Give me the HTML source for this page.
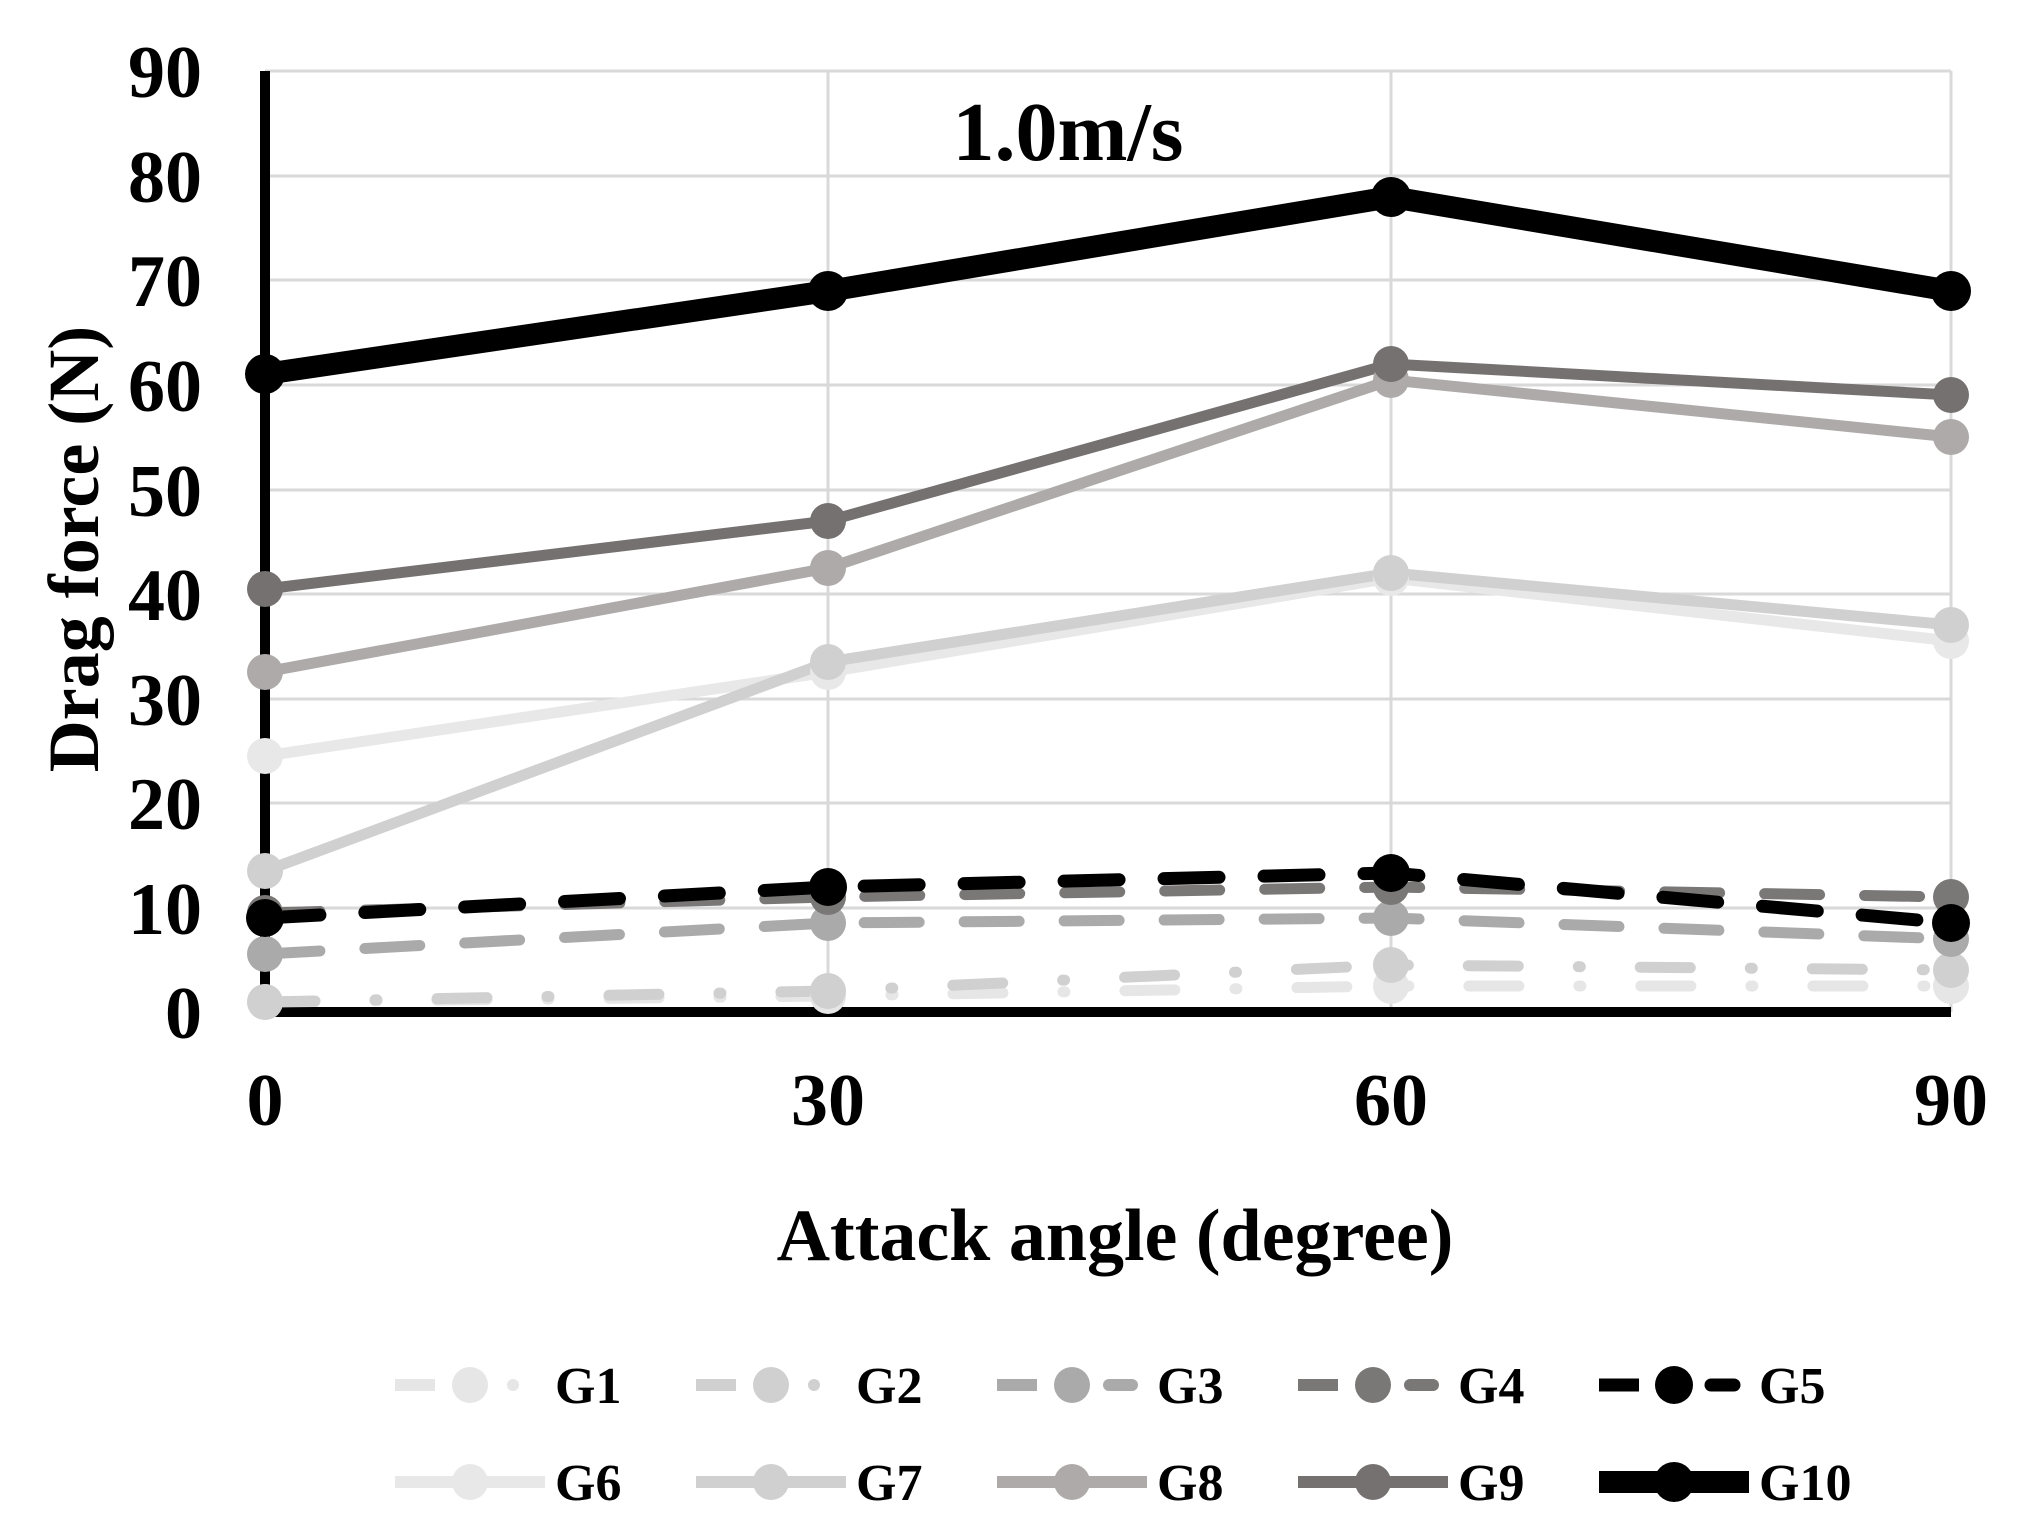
<!DOCTYPE html>
<html><head><meta charset="utf-8"><style>html,body{margin:0;padding:0;background:#fff}svg{display:block}</style></head><body>
<svg width="2019" height="1533" viewBox="0 0 2019 1533" xmlns="http://www.w3.org/2000/svg" font-family="Liberation Serif, serif" font-weight="bold">
<g stroke="#d9d9d9" stroke-width="3">
<line x1="265" y1="71" x2="1951" y2="71"/><line x1="265" y1="176" x2="1951" y2="176"/><line x1="265" y1="280" x2="1951" y2="280"/><line x1="265" y1="385" x2="1951" y2="385"/><line x1="265" y1="490" x2="1951" y2="490"/><line x1="265" y1="594" x2="1951" y2="594"/><line x1="265" y1="699" x2="1951" y2="699"/><line x1="265" y1="803" x2="1951" y2="803"/><line x1="265" y1="908" x2="1951" y2="908"/>
<line x1="828" y1="71" x2="828" y2="1012"/><line x1="1391" y1="71" x2="1391" y2="1012"/><line x1="1951" y1="71" x2="1951" y2="1012"/>
</g>
<line x1="265" y1="1012" x2="1951" y2="1012" stroke="#000" stroke-width="10"/>
<line x1="265" y1="71" x2="265" y2="1016" stroke="#000" stroke-width="10"/>
<g font-size="74" text-anchor="end">
<text x="202" y="97">90</text><text x="202" y="202">80</text><text x="202" y="306">70</text><text x="202" y="411">60</text><text x="202" y="516">50</text><text x="202" y="620">40</text><text x="202" y="725">30</text><text x="202" y="829">20</text><text x="202" y="934">10</text><text x="202" y="1038">0</text>
</g>
<g font-size="74" text-anchor="middle">
<text x="265" y="1125">0</text><text x="828" y="1125">30</text><text x="1391" y="1125">60</text><text x="1951" y="1125">90</text>
</g>
<text x="1068" y="160" font-size="84" text-anchor="middle">1.0m/s</text>
<text x="1115" y="1260" font-size="74" text-anchor="middle">Attack angle (degree)</text>
<text transform="translate(98,549) rotate(-90)" font-size="72" text-anchor="middle">Drag force (N)</text>
<g fill="none" stroke-linejoin="round" stroke-linecap="round">
<polyline points="265,1002 828,996 1391,986 1951,986" stroke="#e6e6e6" stroke-width="11" stroke-dasharray="50,60,2,60"/>
<polyline points="265,1002 828,991 1391,965 1951,970" stroke="#d0d0d0" stroke-width="11" stroke-dasharray="50,60,2,60"/>
<polyline points="265,954 828,923 1391,918 1951,939" stroke="#aaaaaa" stroke-width="11" stroke-dasharray="55,45"/>
<polyline points="265,913 828,897 1391,887 1951,897" stroke="#7a7777" stroke-width="11" stroke-dasharray="55,45"/>
<polyline points="265,918 828,887 1391,873 1951,923" stroke="#000" stroke-width="13" stroke-dasharray="55,45"/>
<polyline points="265,756 828,672 1391,578 1951,641" stroke="#e8e8e8" stroke-width="11"/>
<polyline points="265,871 828,662 1391,573 1951,625" stroke="#d0d0d0" stroke-width="11"/>
<polyline points="265,672 828,568 1391,380 1951,437" stroke="#aeaaaa" stroke-width="11"/>
<polyline points="265,589 828,521 1391,364 1951,395" stroke="#767171" stroke-width="11"/>
<polyline points="265,374 828,291 1391,197 1951,291" stroke="#000" stroke-width="22"/>
</g>
<g fill="#e6e6e6"><circle cx="265" cy="1002" r="18"/><circle cx="828" cy="996" r="18"/><circle cx="1391" cy="986" r="18"/><circle cx="1951" cy="986" r="18"/></g>
<g fill="#d0d0d0"><circle cx="265" cy="1002" r="18"/><circle cx="828" cy="991" r="18"/><circle cx="1391" cy="965" r="18"/><circle cx="1951" cy="970" r="18"/></g>
<g fill="#aaaaaa"><circle cx="265" cy="954" r="18"/><circle cx="828" cy="923" r="18"/><circle cx="1391" cy="918" r="18"/><circle cx="1951" cy="939" r="18"/></g>
<g fill="#7a7777"><circle cx="265" cy="913" r="18"/><circle cx="828" cy="897" r="18"/><circle cx="1391" cy="887" r="18"/><circle cx="1951" cy="897" r="18"/></g>
<g fill="#000"><circle cx="265" cy="918" r="19"/><circle cx="828" cy="887" r="19"/><circle cx="1391" cy="873" r="19"/><circle cx="1951" cy="923" r="19"/></g>
<g fill="#e8e8e8"><circle cx="265" cy="756" r="18"/><circle cx="828" cy="672" r="18"/><circle cx="1391" cy="578" r="18"/><circle cx="1951" cy="641" r="18"/></g>
<g fill="#d0d0d0"><circle cx="265" cy="871" r="18"/><circle cx="828" cy="662" r="18"/><circle cx="1391" cy="573" r="18"/><circle cx="1951" cy="625" r="18"/></g>
<g fill="#aeaaaa"><circle cx="265" cy="672" r="18"/><circle cx="828" cy="568" r="18"/><circle cx="1391" cy="380" r="18"/><circle cx="1951" cy="437" r="18"/></g>
<g fill="#767171"><circle cx="265" cy="589" r="18"/><circle cx="828" cy="521" r="18"/><circle cx="1391" cy="364" r="18"/><circle cx="1951" cy="395" r="18"/></g>
<g fill="#000"><circle cx="265" cy="374" r="20"/><circle cx="828" cy="291" r="20"/><circle cx="1391" cy="197" r="20"/><circle cx="1951" cy="291" r="20"/></g>
<g font-size="52">
<g transform="translate(395,1385)"><line x1="0" y1="0" x2="40" y2="0" stroke="#e6e6e6" stroke-width="12"/><circle cx="75" cy="0" r="18" fill="#e6e6e6"/><circle cx="118" cy="0" r="6" fill="#e6e6e6"/><text x="160" y="18">G1</text></g>
<g transform="translate(696,1385)"><line x1="0" y1="0" x2="40" y2="0" stroke="#d0d0d0" stroke-width="12"/><circle cx="75" cy="0" r="18" fill="#d0d0d0"/><circle cx="118" cy="0" r="6" fill="#d0d0d0"/><text x="160" y="18">G2</text></g>
<g transform="translate(997,1385)"><line x1="0" y1="0" x2="40" y2="0" stroke="#aaa" stroke-width="12"/><circle cx="75" cy="0" r="18" fill="#aaa"/><line x1="112" y1="0" x2="135" y2="0" stroke="#aaa" stroke-width="12" stroke-linecap="round"/><text x="160" y="18">G3</text></g>
<g transform="translate(1298,1385)"><line x1="0" y1="0" x2="40" y2="0" stroke="#7a7777" stroke-width="12"/><circle cx="75" cy="0" r="18" fill="#7a7777"/><line x1="112" y1="0" x2="135" y2="0" stroke="#7a7777" stroke-width="12" stroke-linecap="round"/><text x="160" y="18">G4</text></g>
<g transform="translate(1599,1385)"><line x1="0" y1="0" x2="40" y2="0" stroke="#000" stroke-width="13"/><circle cx="75" cy="0" r="19" fill="#000"/><line x1="112" y1="0" x2="135" y2="0" stroke="#000" stroke-width="13" stroke-linecap="round"/><text x="160" y="18">G5</text></g>
<g transform="translate(395,1482)"><line x1="0" y1="0" x2="150" y2="0" stroke="#e8e8e8" stroke-width="12"/><circle cx="75" cy="0" r="18" fill="#e8e8e8"/><text x="160" y="18">G6</text></g>
<g transform="translate(696,1482)"><line x1="0" y1="0" x2="150" y2="0" stroke="#d0d0d0" stroke-width="12"/><circle cx="75" cy="0" r="18" fill="#d0d0d0"/><text x="160" y="18">G7</text></g>
<g transform="translate(997,1482)"><line x1="0" y1="0" x2="150" y2="0" stroke="#aeaaaa" stroke-width="12"/><circle cx="75" cy="0" r="18" fill="#aeaaaa"/><text x="160" y="18">G8</text></g>
<g transform="translate(1298,1482)"><line x1="0" y1="0" x2="150" y2="0" stroke="#767171" stroke-width="12"/><circle cx="75" cy="0" r="18" fill="#767171"/><text x="160" y="18">G9</text></g>
<g transform="translate(1599,1482)"><line x1="0" y1="0" x2="150" y2="0" stroke="#000" stroke-width="22"/><circle cx="75" cy="0" r="20" fill="#000"/><text x="160" y="18">G10</text></g>
</g>
</svg>
</body></html>
